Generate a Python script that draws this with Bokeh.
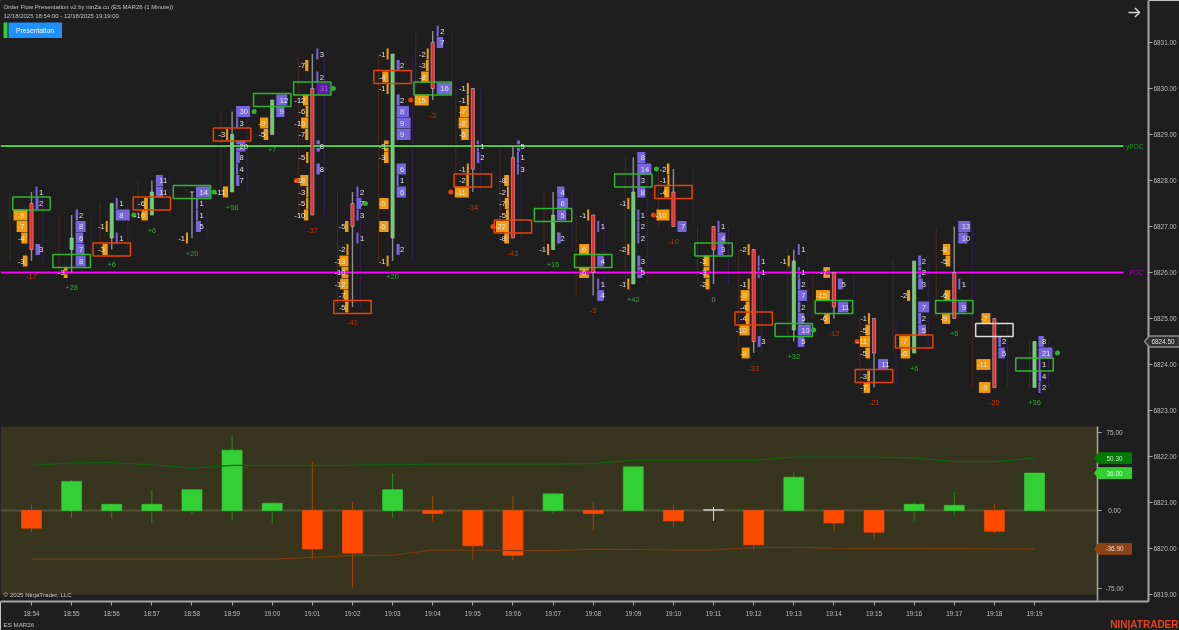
from bokeh.embed import file_html
from bokeh.resources import INLINE
from bokeh.plotting import figure
from bokeh.layouts import column
from bokeh.models import Range1d, LinearAxis, FixedTicker, Label
from bokeh.core.properties import value

# ---------- data ----------
times = ["18:54","18:55","18:56","18:57","18:58","18:59","19:00","19:01","19:02","19:03","19:04","19:05","19:06",
         "19:07","19:08","19:09","19:10","19:11","19:12","19:13","19:14","19:15","19:16","19:17","19:18","19:19"]
PRICE_BASE = 6826.0
TICK = 0.25
# footprint rows: {ticks from 6826.00: volume}
asks = [
 {7:1,6:2,2:3},
 {5:2,4:8,3:6,2:7,1:8},
 {6:1,5:8,3:1},
 {8:11,7:11},
 {7:14,6:1,5:1,4:5},
 {14:30,13:3,11:20,10:8,9:4,8:7},
 {15:12,14:9},
 {19:3,17:2,16:31,11:8,9:8},
 {7:2,6:7,5:3,3:1},
 {18:2,15:2,14:8,13:9,12:9,9:6,8:1,7:6,2:2},
 {21:2,20:7,16:16},
 {11:1,10:2},
 {11:5,10:1,9:3},
 {7:4,6:6,5:5,3:2},
 {4:1,1:4,-1:1,-2:4},
 {10:8,9:14,8:3,7:8,5:1,4:2,3:2,1:3,0:5},
 {4:7},
 {4:1,3:4,2:3},
 {1:1,0:1,-6:3},
 {2:1,0:1,-1:2,-2:7,-3:2,-4:5,-5:10,-6:5},
 {-1:5,-3:11},
 {-8:11},
 {1:2,0:2,-1:3,-3:7,-4:2,-5:5},
 {4:13,3:10,-1:1,-3:9},
 {-6:2,-7:5},
 {-6:8,-7:21,-8:1,-9:4,-10:2},
]
bids = [
 {5:-9,4:-7,3:-4,1:-3},
 {0:-3},
 {4:-1,2:-3},
 {6:-6,5:-10},
 {3:-1},
 {12:-3,7:-11},
 {13:-9,12:-5},
 {18:-7,15:-12,14:-6,13:-16,12:-7,10:-5,8:-18,7:-3,6:-5,5:-10},
 {4:-5,2:-2,1:-13,0:-10,-1:-12,-2:-7,-3:-5},
 {19:-1,17:-4,16:-1,11:-3,10:-3,6:-6,4:-6,1:-1},
 {19:-2,18:-3,17:-8,15:-15},
 {16:-1,15:-1,14:-7,13:-8,12:-6,9:-1,8:-2,7:-11},
 {8:-8,7:-2,6:-7,5:-5,4:-22,3:-8},
 {2:-1},
 {5:-1,2:-6,0:-6},
 {6:-1,2:-2,-1:-1},
 {9:-2,8:-1,7:-4,5:-10},
 {1:-3,0:-3,-1:-2},
 {2:-2,-1:-1,-2:-9,-3:-4,-4:-4,-5:-10,-7:-8},
 {1:-1},
 {0:-7,-2:-15,-4:-6},
 {-4:-1,-5:-5,-6:-11,-7:-5,-9:-3,-10:-7},
 {-2:-2,-6:-7,-7:-6},
 {2:-8,1:-5,-2:-6,-4:-9},
 {-4:-7,-8:-11,-10:-9},
 {},
]
opens  = [6,2,3,5,7,7,12,16,6,3,20,16,10,2,5,-1,7,4,2,-5,0,-4,-7,0,-4,-10]
closes = [2,3,6,7,7,12,15,5,4,19,16,9,3,5,0,7,4,2,-6,1,-3,-7,1,-4,-10,-6]
box_row   = [6,1,2,6,7,12,15,16,-3,17,16,8,4,5,1,8,7,2,-4,-5,-3,-9,-6,-3,-5,-8]
box_kind  = ["g","g","r","r","g","r","g","g","r","r","g","r","r","g","g","g","r","g","r","g","g","r","r","g","w","g"]
# indicator: cumulative delta range per bar
delta_hi = [5.5,29.5,6,20,20,72,8,47,8,36,14,0,14,17,8,42,5.5,3.5,0,36.5,0,0,8,18,6.5,36]
delta_lo = [-21,-7,-8,-12,-3.5,-10,-13,-47,-75,-7,-10,-47,-48,-3.5,-19,-1,-17,-10,-38,0,-20,-29,-10,-5,-22,-2]
band_up = [43.3,45.8,46,44,40.7,43.3,43.3,43.3,43.6,44.2,44.5,44.5,44.5,44.5,45,48.4,48.4,48.4,48.4,51.3,51.3,51.3,50.6,47,47,50.3]
band_dn = [-46.8,-46.8,-46.8,-46.8,-46.8,-46.8,-46.8,-45,-43.3,-43,-37.8,-38.1,-38.5,-38.5,-37.2,-37.5,-37.8,-37.8,-35.6,-35.6,-36.2,-36.5,-36.5,-36.7,-36.9,-36.9]
price_ticks = [6819,6820,6821,6822,6823,6824,6825,6826,6827,6828,6829,6830,6831]
ind_ticks = [75,0,-75]
POC = 6826.0
YPOC = 6828.75
LAST = 6824.50
# dots: (bar, row, side offset px)
dots_green = [(3,5,-18),(5,7,-18),(5,14,22),(7,16,21),(8,6,13),(16,9,-17),(19,-5,20),(25,-7,23)]
dots_red   = [(7,8,-16),(10,15,-22),(11,7,-22),(12,4,-20),(16,5,-20),(21,-6,-17)]
# ---------- geometry ----------
BAR = 40.12
X0, FRAME_W, FRAME_H, Y_6826, PPT = 31.0, 1148, 601, 272.0, 46.0
IND0, IPU = 510.0, 1.04
cell_max = [14,10,14,7,14,14,11,14,9,14,15,14,13,11,10,14,13,8,10,13,14,10,11,12,14,14]
rail_l = [21.7,12.7,11.5,14,None,11,None,14,15,14,17,17,13,9,17,8,15,16,15,6,21,14,21,18,22,5]
rail_r = [11.3,19.7,16,18,15,15,None,12,8,20,19,8,8,19,11,14,20,15,8,14,20,22,14,18,13,14]

BG, TXT, AX = "#1e1e1e", "#e4e4e4", "#a6a6a6"
BID, ASK, ASKPOC = "#f09c0c", "#7765dd", "#6a12bc"
UP, DN = "#32d034", "#ff4a00"
FONT = value("Liberation Sans")

def px(v): return (v - X0) / BAR
def py(v): return PRICE_BASE + (Y_6826 - v) / PPT
def iy(v): return (IND0 - v) / IPU
def prow(k): return PRICE_BASE + k * TICK

p = figure(frame_width=FRAME_W, frame_height=FRAME_H, x_range=Range1d(px(0), px(FRAME_W)),
           y_range=Range1d(py(FRAME_H), py(0)), output_backend="svg", toolbar_location=None,
           min_border_left=0, min_border_top=0, min_border_right=31, min_border_bottom=29,
           background_fill_color=BG, border_fill_color=BG, outline_line_color=BG,
           x_axis_location=None, y_axis_location=None)
p.styles = {"position": "fixed", "left": "0px", "top": "0px"}
p.grid.visible = False
p.extra_y_ranges = {"ind": Range1d(iy(FRAME_H), iy(0))}

# overlay for the marks that sit outside the plot frame
q = figure(frame_width=1179, frame_height=630, x_range=Range1d(px(0), px(1179)), y_range=Range1d(py(630), py(0)),
           output_backend="svg", toolbar_location=None, min_border=0,
           background_fill_color=None, border_fill_color=None, outline_line_color=None,
           x_axis_location=None, y_axis_location=None)
q.styles = {"position": "fixed", "left": "0px", "top": "0px"}
q.grid.visible = False

# axes
def style(ax):
    ax.axis_line_color = AX; ax.axis_line_width = 2
    ax.major_tick_line_color = AX; ax.major_tick_out = 4; ax.major_tick_in = 0
    ax.minor_tick_line_color = None
    ax.major_label_text_color = "#bdbdbd"; ax.major_label_text_font_size = "6.4px"
    ax.major_label_text_font = "Liberation Sans"; ax.major_label_standoff = 1
yax = LinearAxis(ticker=FixedTicker(ticks=price_ticks),
                 major_label_overrides={t: f"{t:.2f}" for t in price_ticks})
style(yax); p.add_layout(yax, "right")
xax = LinearAxis(ticker=FixedTicker(ticks=list(range(len(times)))),
                 major_label_overrides=dict(enumerate(times)))
style(xax); xax.major_label_standoff = 4; p.add_layout(xax, "below")

# ---------- indicator panel ----------
p.quad(left=px(0), right=px(1097), top=iy(426), bottom=iy(594), y_range_name="ind",
       fill_color="#37351e", line_color=None)
p.line([px(0), px(1097)], [0, 0], y_range_name="ind", line_color="#55533a", line_width=2)
p.line([px(1097), px(1097)], [iy(426), iy(601)], y_range_name="ind", line_color=AX, line_width=1.5)
p.segment(x0=[px(1097)]*3, x1=[px(1101)]*3, y0=ind_ticks, y1=ind_ticks, y_range_name="ind", line_color=AX)
p.text(x=[px(1114)]*3, y=ind_ticks, text=[f"{t:.2f}" for t in ind_ticks], y_range_name="ind",
       text_align="center", text_baseline="middle", text_font=FONT, text_font_size="6.4px", text_color="#bdbdbd")

deltas = [sum(a.values()) + sum(b.values()) for a, b in zip(asks, bids)]
idx = list(range(len(times)))
hw = 10 / BAR
col = [UP if d > 0 else DN if d < 0 else "#c8c8c8" for d in deltas]
wcol = ["#2a8a22" if d > 0 else "#a84400" if d < 0 else "#d8d8d8" for d in deltas]
p.segment(x0=idx, x1=idx, y0=delta_lo, y1=delta_hi, y_range_name="ind", line_color=wcol, line_width=1)
p.quad(left=[i-hw for i in idx], right=[i+hw for i in idx],
       bottom=[min(d, 0) for d in deltas], top=[max(d, 0) if d else 1 for d in deltas],
       y_range_name="ind", fill_color=col, line_color=col, line_width=0.6)
p.line(idx, band_up, y_range_name="ind", line_color="#0f6410", line_width=1.2)
p.line(idx, band_dn, y_range_name="ind", line_color="#7a3c10", line_width=1.2)

tag_x = [1094, 1098, 1131, 1131, 1098]
tags = [(band_up[-1], "#007a00", "#c8e8c8"), (deltas[-1], "#32d034", "#e6ffe6"), (band_dn[-1], "#8a4416", "#f0d8c8")]
dy = 5.4 / IPU
for v, c, tc in tags:
    p.patch([px(a) for a in tag_x], [v, v+dy, v+dy, v-dy, v-dy], y_range_name="ind", fill_color=c, line_color=c)
    p.text(x=[px(1114)], y=[v], text=[f"{v:.2f}"], y_range_name="ind", text_align="center", text_baseline="middle",
           text_font=FONT, text_font_size="6.4px", text_color=tc)

# ---------- footprint cells ----------
bl, br, bt, bb, al, ar, at, ab, acol = [], [], [], [], [], [], [], [], []
btx, bty, btxt, atx, aty, atxt, atc = [], [], [], [], [], [], []
half = 0.118
for i, (a, b) in enumerate(zip(asks, bids)):
    vmax = max([abs(v) for v in list(a.values()) + list(b.values())])
    for k, v in b.items():
        w = max(2, abs(v) / vmax * cell_max[i])
        bl.append(i - (4 + w) / BAR); br.append(i - 4 / BAR); bt.append(prow(k) + half); bb.append(prow(k) - half)
        btx.append(i - 7 / BAR); bty.append(prow(k)); btxt.append(str(v))
    for k, v in a.items():
        w = max(2, v / vmax * cell_max[i])
        al.append(i + 4 / BAR); ar.append(i + (4 + w) / BAR); at.append(prow(k) + half); ab.append(prow(k) - half)
        acol.append(ASKPOC if v == 31 else ASK)
        atx.append(i + 7.5 / BAR); aty.append(prow(k)); atxt.append(str(v))
        atc.append("#8d7fb0" if v == 31 else TXT)

# rails
hi = [max(list(a) + list(b)) for a, b in zip(asks, bids)]
lo = [min(list(a) + list(b)) for a, b in zip(asks, bids)]
rx0 = [i - g / BAR for i, g in enumerate(rail_l) if g is not None]
ry0 = [prow(hi[i]) for i, g in enumerate(rail_l) if g is not None]
ry1 = [prow(lo[i]) for i, g in enumerate(rail_l) if g is not None]
p.segment(x0=rx0, x1=rx0, y0=ry0, y1=ry1, line_color="#4a2a20", line_width=1)
rx0 = [i + g / BAR for i, g in enumerate(rail_r) if g is not None]
ry0 = [prow(hi[i]) for i, g in enumerate(rail_r) if g is not None]
ry1 = [prow(lo[i]) for i, g in enumerate(rail_r) if g is not None]
p.segment(x0=rx0, x1=rx0, y0=ry0, y1=ry1, line_color="#35204f", line_width=1)

p.quad(left=bl, right=br, top=bt, bottom=bb, fill_color=BID, line_color=None)
p.quad(left=al, right=ar, top=at, bottom=ab, fill_color=acol, line_color=None)

# level lines
x_end = px(1123)
for lvl, c, name, nc in [(YPOC, "#3fcf3f", "yPOC", "#1f9a1f"), (POC, "#ff00ff", "POC", "#b000b0")]:
    p.line([px(0), x_end], [lvl, lvl], line_color="#0c0c0c", line_width=4, line_alpha=0.6)
    p.line([px(0), x_end], [lvl, lvl], line_color=c, line_width=2)
    p.text(x=[px(1143)], y=[lvl], text=[name], text_align="right", text_baseline="middle",
           text_font=FONT, text_font_size="6.6px", text_color=nc)

# candles
p.segment(x0=idx, x1=idx, y0=[prow(v) for v in lo], y1=[prow(v) for v in hi], line_color="#8e8e8e", line_width=1.4)
cw = 1.6 / BAR
ccol = ["#5fd75f" if c > o else "#ff2222" if c < o else "#cfcfcf" for o, c in zip(opens, closes)]
p.quad(left=[i-cw for i in idx], right=[i+cw for i in idx],
       top=[prow(max(o, c)) for o, c in zip(opens, closes)], bottom=[prow(min(o, c)) for o, c in zip(opens, closes)],
       fill_color=ccol, line_color="#bdbdbd", line_width=0.6)

# imbalance boxes
kinds = {"g": "#2fb82f", "r": "#e84400", "w": "#dcdcdc"}
bw, bh = 18.7 / BAR, 6.5 / PPT
p.quad(left=[i-bw for i in idx], right=[i+bw for i in idx], top=[prow(k)+bh for k in box_row],
       bottom=[prow(k)-bh for k in box_row], fill_color=None,
       line_color=[kinds[k] for k in box_kind], line_width=1.5)

# dots
for dots, c in [(dots_green, "#2cb52c"), (dots_red, "#e84400")]:
    p.scatter([b + o / BAR for b, k, o in dots], [prow(k) for b, k, o in dots], size=5, fill_color=c, line_color=None)

# texts
common = dict(text_baseline="middle", text_font=FONT, text_font_size="7.6px")
p.text(x=btx, y=bty, text=btxt, text_align="right", text_color=TXT, **common)
p.text(x=atx, y=aty, text=atxt, text_align="left", text_color=atc, **common)
dcol = ["#2fae2f" if d > 0 else "#d63200" if d < 0 else "#8a8a8a" for d in deltas]
p.text(x=idx, y=[prow(v) - 15 / PPT for v in lo], text=[f"+{d}" if d > 0 else str(d) for d in deltas],
       text_align="center", text_baseline="middle", text_font=FONT, text_font_size="7.4px", text_color=dcol)

# header and footer
def label(x, y, t, color="#c4c4c4", size="6px", style="normal", align="left"):
    q.add_layout(Label(x=px(x), y=py(y), text=t, text_color=color, text_font_size=size, text_font="Liberation Sans",
                       text_font_style=style, text_align=align, text_baseline="middle"))
label(3, 6, "Order Flow Presentation v2 by ninZa.co (ES MAR26 (1 Minute))")
label(3, 15.5, "12/18/2025 18:54:00 - 12/18/2025 19:19:00")
p.quad(left=px(3), right=px(7), top=py(22), bottom=py(37.5), fill_color="#32d034", line_color=None)
p.quad(left=px(8), right=px(61.5), top=py(22), bottom=py(37.5), fill_color="#1e90ff", line_color=None)
label(34.5, 30, "Presentation", color="#f0f8ff", size="6.8px", align="center")
p.line([px(1128), px(1139)], [py(12), py(12)], line_color="#d6d6d6", line_width=1.5)
p.line([px(1134.5), px(1139), px(1134.5)], [py(7.5), py(12), py(16.5)], line_color="#d6d6d6", line_width=1.5)
label(3, 593.5, "\u00a9 2025 NinjaTrader, LLC", color="#c8c8c8", size="6.2px")
label(3, 624, "ES MAR26", color="#c0c0c0", size="6.2px")
label(1178, 624, "NIN|ATRADER", color="#e8401c", size="10px", style="bold", align="right")

# last price tag
ly = Y_6826 + (PRICE_BASE - LAST) * PPT
q.patch([px(v) for v in [1144, 1149, 1179, 1179, 1149]], [py(v) for v in [ly, ly-5.5, ly-5.5, ly+5.5, ly+5.5]],
        fill_color="#303030", line_color="#8c8c8c", line_width=1.5)
q.text(x=[px(1151)], y=[LAST], text=[f"{LAST:.2f}"], text_color="#e0e0e0", text_font_size="6.4px",
       text_font=FONT, text_baseline="middle")

open("out.html", "w").write(file_html(column(p, q), INLINE))
